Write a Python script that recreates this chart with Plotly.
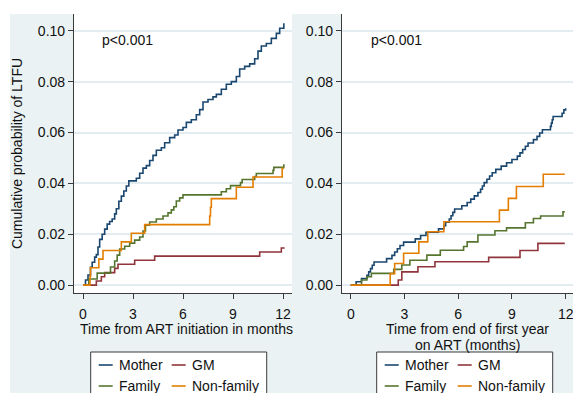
import plotly.graph_objects as go

# ---------------- data ----------------
series_names = ["Mother", "GM", "Family", "Non-family"]
series_colors = ["#1a476f", "#90353b", "#55752f", "#e37e00"]

# Panel 1: time from ART initiation (months)
mother_init_t = [0, 0.15, 0.3, 0.45, 0.55, 0.7, 0.8, 0.9, 1.0, 1.15, 1.3, 1.45, 1.6, 1.75, 1.9, 2.0,
                 2.15, 2.3, 2.45, 2.6, 2.75, 3.2, 3.4, 3.6, 3.8, 4.0, 4.2, 4.4, 4.7, 4.9, 5.2, 5.5,
                 5.7, 6.0, 6.2, 6.5, 6.8, 7.0, 7.2, 7.5, 7.8, 8.0, 8.3, 8.6, 8.9, 9.2, 9.4, 9.7,
                 10.0, 10.3, 10.5, 10.7, 11.0, 11.3, 11.6, 11.8, 12.05]
mother_init_p = [0, 0.002, 0.004, 0.007, 0.009, 0.011, 0.012, 0.015, 0.018, 0.020, 0.022, 0.024,
                 0.025, 0.026, 0.028, 0.030, 0.033, 0.035, 0.037, 0.039, 0.041, 0.042, 0.044,
                 0.046, 0.047, 0.049, 0.051, 0.053, 0.054, 0.056, 0.058, 0.059, 0.061, 0.062,
                 0.064, 0.065, 0.067, 0.069, 0.072, 0.073, 0.074, 0.075, 0.077, 0.079, 0.080,
                 0.082, 0.085, 0.086, 0.087, 0.089, 0.092, 0.094, 0.095, 0.097, 0.099, 0.101, 0.103]
gm_init_t = [0, 0.8, 1.1, 1.3, 1.9, 2.1, 3.1, 4.3, 10.6, 11.9, 12.1]
gm_init_p = [0, 0.0016, 0.0033, 0.0049, 0.0066, 0.0082, 0.0098, 0.0114, 0.0130, 0.0146, 0.0146]
family_init_t = [0, 0.35, 0.85, 1.65, 1.9, 2.05, 2.2, 2.5, 2.8, 3.1, 3.4, 3.6, 3.75, 4.0, 4.4, 4.8,
                 5.1, 5.3, 5.45, 5.6, 5.8, 6.0, 8.3, 8.6, 8.85, 9.45, 9.55, 10.3, 10.4, 11.4,
                 11.45, 12.05]
family_init_p = [0, 0.0024, 0.0047, 0.0071, 0.0095, 0.0118, 0.0142, 0.0153, 0.0165, 0.0177,
                 0.0189, 0.0213, 0.0236, 0.0248, 0.0260, 0.0272, 0.0284, 0.0296, 0.0308, 0.0331,
                 0.0343, 0.0355, 0.0367, 0.0379, 0.0391, 0.0403, 0.0415, 0.0427, 0.0439, 0.0451,
                 0.0463, 0.0475]
nonfam_init_t = [0, 0.42, 0.45, 0.95, 1.2, 2.3, 2.9, 3.7, 7.6, 7.65, 7.7, 9.2, 10.2, 11.95, 12.05]
nonfam_init_p = [0, 0.0034, 0.0068, 0.0102, 0.0136, 0.0170, 0.0204, 0.0238, 0.0272, 0.0306,
                 0.0340, 0.0385, 0.0425, 0.0459, 0.0459]

# Panel 2: time from end of first year on ART (months)
mother_y1_t = [0, 0.3, 0.6, 0.9, 1.0, 1.1, 1.2, 1.3, 2.0, 2.3, 2.45, 2.6, 2.75, 2.95, 3.6, 3.9,
               4.2, 4.9, 5.2, 5.3, 5.5, 5.6, 5.7, 5.8, 6.2, 6.5, 6.7, 6.9, 7.1, 7.25, 7.35, 7.45,
               7.6, 7.75, 7.9, 8.1, 8.4, 8.7, 9.0, 9.3, 9.45, 9.6, 9.75, 9.9, 10.2, 10.4, 10.55,
               10.7, 11.15, 11.2, 11.25, 11.3, 11.8, 11.9, 12.0]
mother_y1_p = [0, 0.0013, 0.0026, 0.0039, 0.0052, 0.0065, 0.0078, 0.0091, 0.0104, 0.0117, 0.0130,
               0.0143, 0.0156, 0.0169, 0.0182, 0.0195, 0.0208, 0.0221, 0.0234, 0.0247, 0.0260,
               0.0273, 0.0286, 0.0299, 0.0312, 0.0325, 0.0338, 0.0351, 0.0364, 0.0377, 0.0390,
               0.0403, 0.0416, 0.0429, 0.0442, 0.0455, 0.0468, 0.0481, 0.0494, 0.0507, 0.0520,
               0.0533, 0.0546, 0.0559, 0.0572, 0.0585, 0.0598, 0.0611, 0.0624, 0.0637, 0.0650,
               0.0663, 0.0676, 0.0689, 0.0695]
gm_y1_t = [0, 2.65, 2.85, 3.75, 4.7, 7.7, 9.45, 10.45, 11.95]
gm_y1_p = [0, 0.0020, 0.0052, 0.0072, 0.0092, 0.0109, 0.0136, 0.0164, 0.0164]
family_y1_t = [0, 0.6, 0.9, 1.15, 2.4, 2.85, 3.3, 4.25, 5.0, 6.3, 6.5, 7.1, 8.05, 8.7, 9.75, 10.2,
               10.6, 11.85, 11.95]
family_y1_p = [0, 0.0020, 0.0033, 0.0046, 0.0062, 0.0079, 0.0098, 0.0118, 0.0137, 0.0152, 0.0170,
               0.0197, 0.0214, 0.0225, 0.0245, 0.0262, 0.0272, 0.0288, 0.0288]
nonfam_y1_t = [0, 2.2, 2.45, 2.95, 3.8, 4.3, 5.2, 8.3, 8.8, 9.25, 10.75, 11.95]
nonfam_y1_p = [0, 0.0045, 0.0085, 0.0125, 0.0170, 0.0210, 0.0249, 0.0295, 0.0341, 0.0388,
               0.0436, 0.0436]

x_tick_vals = [0, 3, 6, 9, 12]
y_tick_vals = [0.0, 0.02, 0.04, 0.06, 0.08, 0.10]
p_label = "p<0.001"
y_title = "Cumulative probability of LTFU"
x_title_1 = ["Time from ART initiation in months"]
x_title_2 = ["Time from end of first year", "on ART (months)"]

# ---------------- layout geometry ----------------
W, H = 573, 393
ML, MR, MT, MB = 74, 0, 14, 100
PW, PH = W - ML - MR, H - MT - MB

def px_x(px):
    return (px - ML) / PW

def px_y(py):
    return (H - MB - py) / PH

FONT = "Liberation Sans, Arial, Helvetica, sans-serif"
TXT = "#111111"
BG = "#eaf2f3"
GRID = "#e3edf1"
AX = "#3a3a3a"

panel1 = [(mother_init_t, mother_init_p), (gm_init_t, gm_init_p),
          (family_init_t, family_init_p), (nonfam_init_t, nonfam_init_p)]
panel2 = [(mother_y1_t, mother_y1_p), (gm_y1_t, gm_y1_p),
          (family_y1_t, family_y1_p), (nonfam_y1_t, nonfam_y1_p)]

fig = go.Figure()
for (xs, ys), name, col in zip(panel1, series_names, series_colors):
    fig.add_trace(go.Scatter(x=xs, y=ys, mode="lines", name=name, line=dict(color=col, width=1.6, shape="hv"),
                             xaxis="x", yaxis="y", showlegend=False))
for (xs, ys), name, col in zip(panel2, series_names, series_colors):
    fig.add_trace(go.Scatter(x=xs, y=ys, mode="lines", name=name, line=dict(color=col, width=1.6, shape="hv"),
                             xaxis="x2", yaxis="y2", showlegend=False))

axis_common = dict(showline=True, linecolor=AX, linewidth=1.2, ticks="outside", ticklen=5,
                   tickcolor=AX, tickwidth=1.2, tickfont=dict(family=FONT, size=14, color=TXT),
                   zeroline=False, mirror=False)
yrange = [-0.0031, 0.1066]

fig.update_layout(
    width=W, height=H,
    margin=dict(l=ML, r=MR, t=MT, b=MB, autoexpand=False),
    paper_bgcolor=BG, plot_bgcolor="white",
    font=dict(family=FONT, size=14, color=TXT),
    showlegend=False,
    xaxis=dict(domain=[0, px_x(292)], range=[-0.54, 12.54], tickvals=x_tick_vals, showgrid=False,
               anchor="y", ticklabelstandoff=3, ticklabeloverflow="allow", **axis_common),
    yaxis=dict(domain=[0, 1], range=yrange, tickvals=y_tick_vals, tickformat=".2f", showgrid=True,
               gridcolor=GRID, gridwidth=1.5, anchor="x",
               title=dict(text=y_title, standoff=11, font=dict(family=FONT, size=14, color=TXT)),
               **axis_common),
    xaxis2=dict(domain=[px_x(342), 1], range=[-0.49, 12.41], tickvals=x_tick_vals, showgrid=False,
                anchor="y2", ticklabelstandoff=3, ticklabeloverflow="allow", **axis_common),
    yaxis2=dict(domain=[0, 1], range=yrange, tickvals=y_tick_vals, tickformat=".2f", showgrid=True,
                gridcolor=GRID, gridwidth=1.5, anchor="x2", **axis_common),
)

shapes = [
    # white outer margins (top and left)
    dict(type="rect", xref="paper", yref="paper", x0=px_x(0), x1=px_x(W), y0=px_y(14), y1=px_y(0),
         fillcolor="white", line=dict(width=0), layer="below"),
    dict(type="rect", xref="paper", yref="paper", x0=px_x(0), x1=px_x(10), y0=px_y(H), y1=px_y(0),
         fillcolor="white", line=dict(width=0), layer="below"),
]
annotations = [
    dict(text=p_label, x=1.0, y=0.0963, xref="x", yref="y", xanchor="left", yanchor="middle",
         showarrow=False, font=dict(family=FONT, size=14, color=TXT)),
    dict(text=p_label, x=1.0, y=0.0963, xref="x2", yref="y2", xanchor="left", yanchor="middle",
         showarrow=False, font=dict(family=FONT, size=14, color=TXT)),
]

# x-axis titles (one annotation per line, tight spacing as in the reference)
for lines, cx in ((x_title_1, 186), (x_title_2, 467.5)):
    for i, line in enumerate(lines):
        annotations.append(dict(text=line, x=px_x(cx), y=px_y(328.5 + 16.2 * i), xref="paper", yref="paper",
                                xanchor="center", yanchor="middle", showarrow=False,
                                font=dict(family=FONT, size=14, color=TXT)))

# Legends (2 x 2 boxes under each panel)
item_offsets = [(8, 365), (81, 365), (8, 386), (81, 386)]
for box_left in (90.7, 376.7):
    shapes.append(dict(type="rect", xref="paper", yref="paper", x0=px_x(box_left), x1=px_x(box_left + 176),
                       y0=px_y(420), y1=px_y(352), fillcolor="white", line=dict(color=AX, width=1)))
    for (dx, py), name, col in zip(item_offsets, series_names, series_colors):
        x0 = box_left + dx
        shapes.append(dict(type="line", xref="paper", yref="paper", x0=px_x(x0), x1=px_x(x0 + 14),
                           y0=px_y(py), y1=px_y(py), line=dict(color=col, width=1.6)))
        annotations.append(dict(text=name, x=px_x(x0 + 18), y=px_y(py), xref="paper", yref="paper",
                                xanchor="left", yanchor="middle", showarrow=False,
                                font=dict(family=FONT, size=14, color=TXT)))

fig.update_layout(shapes=shapes, annotations=annotations)
fig.write_html("out.html", config={"displayModeBar": False},
               post_script="document.body.style.margin='0';document.body.style.overflow='hidden';")
